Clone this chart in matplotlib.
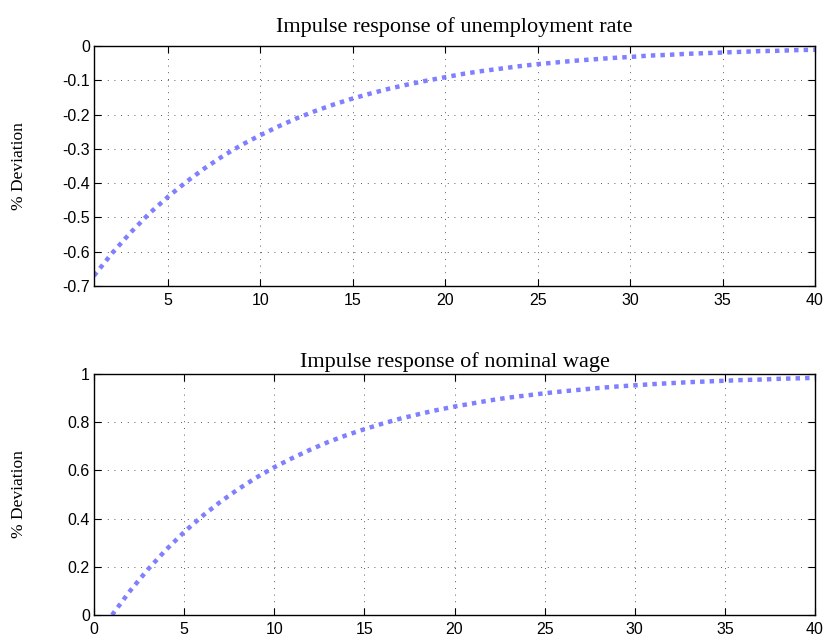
import matplotlib
matplotlib.use('Agg')
import matplotlib.pyplot as plt

# horizon
periods = list(range(1, 41))

# impulse response of unemployment rate (% deviation)
unemp = [-0.670, -0.603, -0.543, -0.488, -0.440, -0.396, -0.356, -0.320, -0.288, -0.260,
         -0.234, -0.210, -0.189, -0.170, -0.153, -0.138, -0.124, -0.112, -0.101, -0.091,
         -0.081, -0.073, -0.066, -0.059, -0.053, -0.048, -0.043, -0.039, -0.035, -0.032,
         -0.028, -0.026, -0.023, -0.021, -0.019, -0.017, -0.015, -0.014, -0.012, -0.011]

# impulse response of nominal wage (% deviation)
wage = [0.000, 0.100, 0.190, 0.271, 0.344, 0.410, 0.469, 0.522, 0.570, 0.613,
        0.651, 0.686, 0.718, 0.746, 0.771, 0.794, 0.815, 0.833, 0.850, 0.865,
        0.878, 0.891, 0.902, 0.911, 0.920, 0.928, 0.935, 0.942, 0.948, 0.953,
        0.958, 0.962, 0.966, 0.969, 0.972, 0.975, 0.977, 0.980, 0.982, 0.984]

titles = ['Impulse response of unemployment rate', 'Impulse response of nominal wage']
ylabel = '% Deviation'

W, H = 827, 639
plt.rcParams['font.family'] = ['Liberation Sans', 'DejaVu Sans']
fig = plt.figure(figsize=(W / 100, H / 100), dpi=100)

line_color = '#7f7fff'
serif = 'Liberation Serif'

# top panel (pixel box: x 94..815, y 46..286)
ax1 = fig.add_axes([94 / W, 1 - 286 / H, (815 - 94) / W, (286 - 46) / H])
ax1.plot(periods, unemp, color=line_color, linewidth=3.2, dashes=(1, 1.15),
         dash_capstyle='butt')
ax1.set_xlim(1, 40)
ax1.set_ylim(-0.7, 0)
ax1.set_xticks([5, 10, 15, 20, 25, 30, 35, 40])
ax1.set_yticks([-0.7, -0.6, -0.5, -0.4, -0.3, -0.2, -0.1, 0])
ax1.set_yticklabels(['-0.7', '-0.6', '-0.5', '-0.4', '-0.3', '-0.2', '-0.1', '0'])

# bottom panel (pixel box: x 94..815, y 374..615)
ax2 = fig.add_axes([94 / W, 1 - 615 / H, (815 - 94) / W, (615 - 374) / H])
ax2.plot(periods, wage, color=line_color, linewidth=3.2, dashes=(1, 1.15),
         dash_capstyle='butt')
ax2.set_xlim(0, 40)
ax2.set_ylim(0, 1)
ax2.set_xticks([0, 5, 10, 15, 20, 25, 30, 35, 40])
ax2.set_yticks([0, 0.2, 0.4, 0.6, 0.8, 1])
ax2.set_yticklabels(['0', '0.2', '0.4', '0.6', '0.8', '1'])

for ax, t, tpad in zip([ax1, ax2], titles, [10, 5]):
    ax.tick_params(direction='in', top=True, right=True, length=5, width=0.8,
                   labelsize=11.5)
    ax.tick_params(axis='x', pad=5)
    ax.tick_params(axis='y', pad=3)
    ax.grid(True, linestyle=(0, (1, 7)), color='#222222', linewidth=0.6)
    for s in ax.spines.values():
        s.set_linewidth(1.0)
    ax.set_title(t, fontfamily=serif, fontsize=16, pad=tpad)
    # y label centred at x ~ 19 px
    pos = ax.get_position()
    fig.text(19 / W, (pos.y0 + pos.y1) / 2, ylabel, fontfamily=serif, fontsize=12.5,
             rotation=90, ha='center', va='center')

fig.savefig('out.png', dpi=100)
